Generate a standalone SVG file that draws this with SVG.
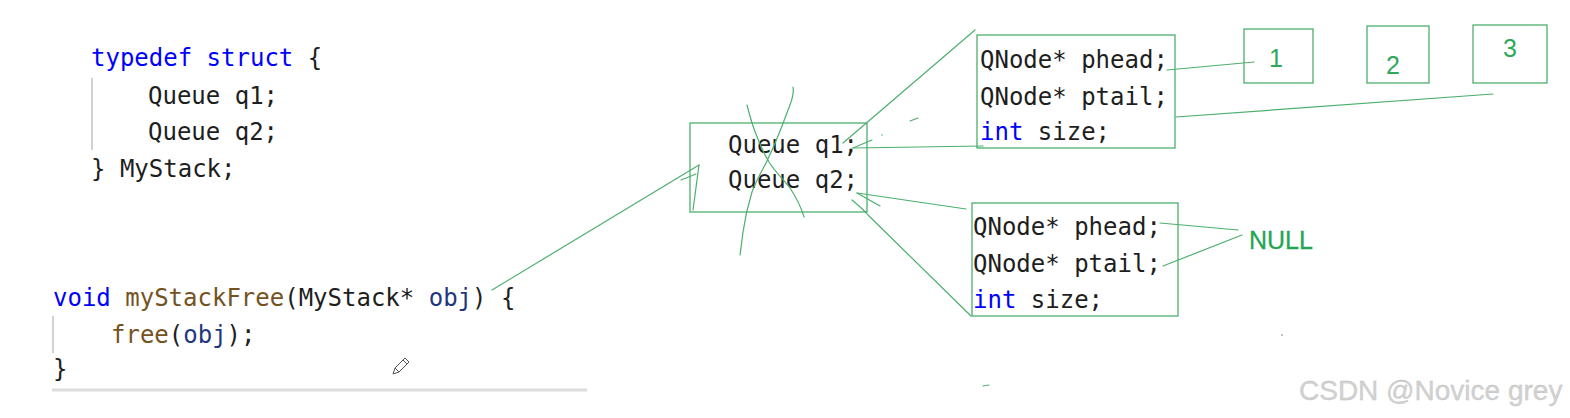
<svg xmlns="http://www.w3.org/2000/svg" width="1570" height="418" viewBox="0 0 1570 418">
<style>
.code{font-family:"DejaVu Sans Mono","Liberation Mono",monospace;font-size:24px;fill:#1e1e1e}
.kw{fill:#0000ff}
.fn{fill:#74531f}
.pr{fill:#1f377f}
.box{fill:none;stroke:#4caf6e;stroke-width:1.3}
.ln{fill:none;stroke:#4caf6e;stroke-width:1.2;stroke-linecap:round;stroke-linejoin:round}
.num{font-family:"Liberation Sans","Noto Sans",sans-serif;font-size:25px;fill:#2ea85a}
.guide{stroke:#d2d2d2;stroke-width:2}
</style>
<rect width="1570" height="418" fill="#ffffff"/>
<g id="code-struct">
<line class="guide" x1="92" y1="78" x2="92" y2="150"/>
<text class="code" x="91" y="66"><tspan class="kw">typedef struct</tspan> {</text>
<text class="code" x="148" y="104">Queue q1;</text>
<text class="code" x="148" y="140">Queue q2;</text>
<text class="code" x="91" y="177">} MyStack;</text>
</g>
<g id="code-free">
<line class="guide" x1="53" y1="316" x2="53" y2="353"/>
<text class="code" x="53" y="306"><tspan class="kw">void</tspan> <tspan class="fn">myStackFree</tspan>(MyStack* <tspan class="pr">obj</tspan>) {</text>
<text class="code" x="111" y="343"><tspan class="fn">free</tspan>(<tspan class="pr">obj</tspan>);</text>
<text class="code" x="53" y="377">}</text>
<line x1="52" y1="390" x2="587" y2="390" stroke="#dcdcdc" stroke-width="3"/>
<path d="M393 374 L395 368 L405 358 L409 362 L399 372 Z M395 368 L399 372 M403 360 L407 364" fill="none" stroke="#555" stroke-width="1"/>
</g>
<g id="mystack-box">
<rect class="box" x="690" y="123" width="177" height="89"/>
<text class="code" x="728" y="153">Queue q1;</text>
<text class="code" x="728" y="188">Queue q2;</text>
<path class="ln" d="M747 105 C749 113 751 120 753 126 C758 140 763 152 769 162 C776 173 784 180 790 188 C796 197 801 207 804 217"/>
<path class="ln" d="M793 87 C794 92 793 97 790 105 C786 115 783 124 780 131 C776 142 771 152 766 163 C760 174 755 183 752 192 C748 205 745 218 743 232 C742 240 741 248 740 255"/>
</g>
<g id="q1-struct">
<rect class="box" x="977" y="35" width="198" height="113"/>
<text class="code" x="980" y="68">QNode* phead;</text>
<text class="code" x="980" y="105">QNode* ptail;</text>
<text class="code" x="980" y="140"><tspan class="kw">int</tspan> size;</text>
</g>
<g id="q2-struct">
<rect class="box" x="972" y="203" width="206" height="113"/>
<text class="code" x="973" y="235">QNode* phead;</text>
<text class="code" x="973" y="272">QNode* ptail;</text>
<text class="code" x="973" y="308"><tspan class="kw">int</tspan> size;</text>
</g>
<g id="node-1">
<rect class="box" x="1244" y="29" width="69" height="54"/>
<text class="num" x="1276" y="67" text-anchor="middle">1</text>
</g>
<g id="node-2">
<rect class="box" x="1367" y="26" width="62" height="57"/>
<text class="num" x="1393" y="74" text-anchor="middle">2</text>
</g>
<g id="node-3">
<rect class="box" x="1473" y="25" width="74" height="58"/>
<text class="num" x="1510" y="57" text-anchor="middle">3</text>
</g>
<g id="null-label">
<text x="1249" y="249" font-family="Liberation Sans,Noto Sans,sans-serif" font-size="25" fill="#22a653" stroke="#22a653" stroke-width="0.3">NULL</text>
</g>
<g id="connectors">
<path class="ln" d="M492 290 L699 165"/>
<path class="ln" d="M699 165 L693 210"/>
<path class="ln" d="M681 180 L696 174"/>
<path class="ln" d="M843 143 L975 30"/>
<path class="ln" d="M853 148 L983 146"/>
<path class="ln" d="M853 148 L872 140"/>
<path class="ln" d="M1167 70 L1254 62"/>
<path class="ln" d="M1176 117 L1493 94"/>
<path class="ln" d="M857 193 L966 209"/>
<path class="ln" d="M857 193 L880 206"/>
<path class="ln" d="M852 200 C858 205 864 210 868 215 L971 316"/>
<path class="ln" d="M1160 223 L1238 230"/>
<path class="ln" d="M1163 266 L1242 235"/>
<path class="ln" d="M910 121 L918 118"/>
<path class="ln" d="M983 386 L989 385"/>
<circle cx="882" cy="135" r="0.8" fill="#4caf6e"/>
<circle cx="1282" cy="335" r="0.8" fill="#777"/>
</g>
<g id="watermark">
<text x="1299" y="400" font-family="Liberation Sans,Noto Sans,sans-serif" font-size="28" fill="#d2d2d2" stroke="#bdbdbd" stroke-width="0.3">CSDN @Novice grey</text>
</g>
</svg>
